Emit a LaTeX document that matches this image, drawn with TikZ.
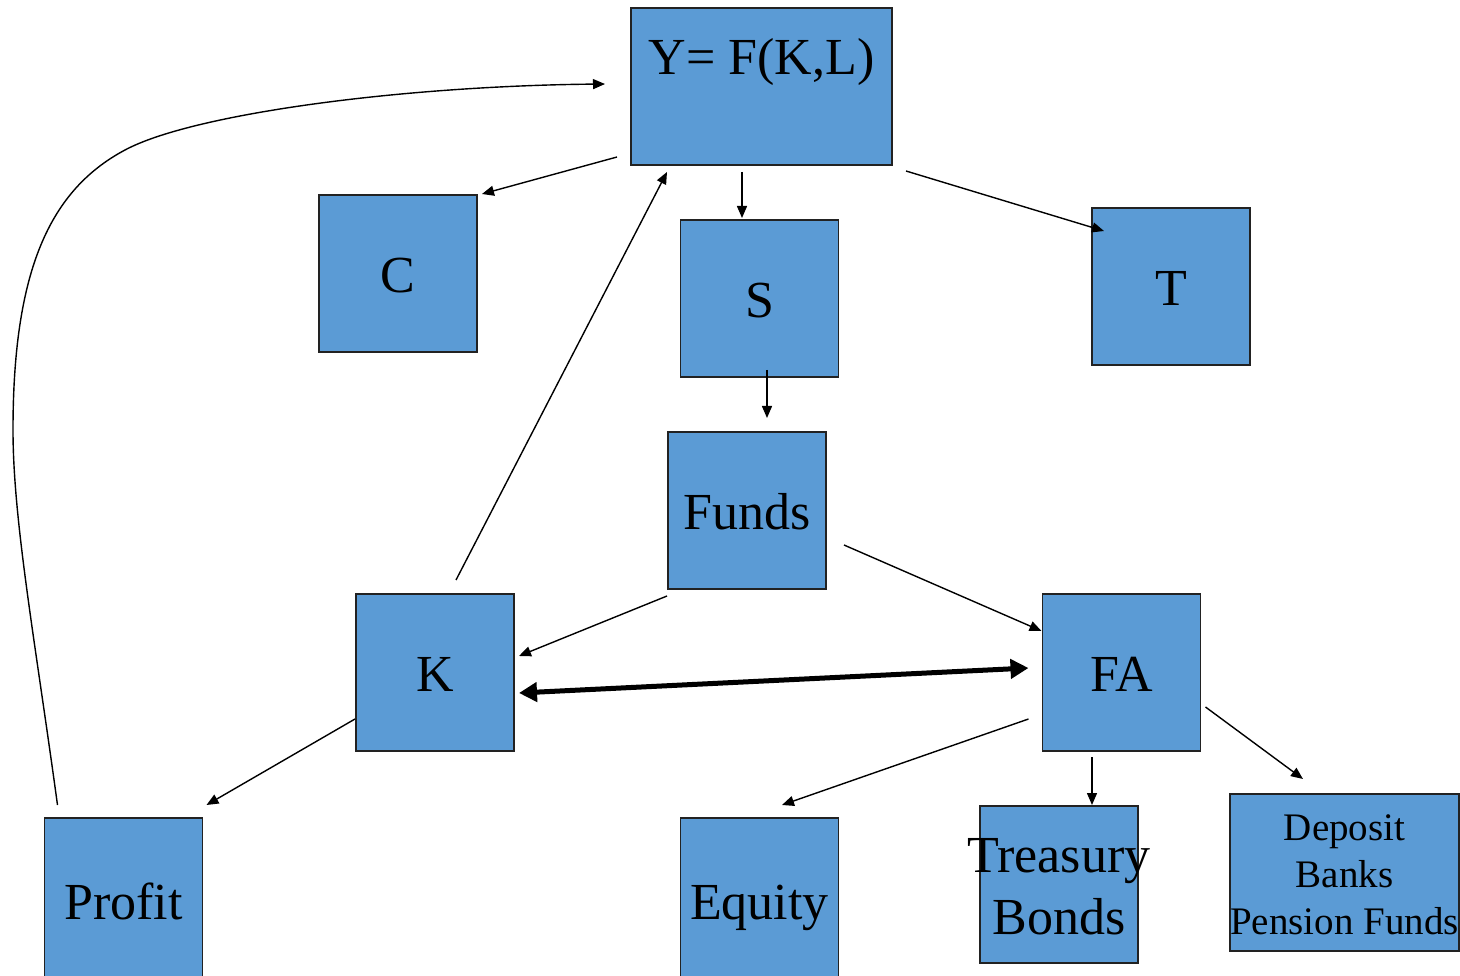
\documentclass[tikz,border=0pt]{standalone}
\usepackage{fontspec}
\setmainfont{Liberation Serif}
\usetikzlibrary{arrows.meta,calc}
\definecolor{boxblue}{HTML}{5B9BD5}
\definecolor{boxline}{HTML}{222222}
\begin{document}
\begin{tikzpicture}[x=1pt,y=-1pt,
  boxbase/.style={draw=boxline,line width=1.8pt,fill=boxblue,
    minimum width=158pt,minimum height=157pt,inner sep=0pt,outer sep=0pt},
  bigfont/.style={font=\fontsize{52}{62}\selectfont},
  box/.style={boxbase,bigfont,text height=38pt,text depth=0pt},
  lbl/.style={inner sep=0pt,bigfont,text height=34pt,text depth=0pt},
  mlbl/.style={inner sep=0pt,align=center,yshift=-2pt},
  arr/.style={-{Triangle[length=12pt,width=10pt]},line width=1.4pt},
  dbl/.style={{Triangle[length=18pt,width=19pt]}-{Triangle[length=18pt,width=19pt]},line width=5pt}]
\clip (0,0) rectangle (1460,976);
\fill[white] (0,0) rectangle (1460,976);

% boxes
\node[boxbase,minimum width=261pt] (Y) at (761.5,86.5) {};
\node[lbl] (Ytext) at ($(Y.north)+(0,50)$) {Y= F(K,L)};
\node[box] (C) at (398,273.5) {C};
\node[box] (S) at (759.5,298.5) {S};
\node[box] (T) at (1171,286.5) {T};
\node[box] (F) at (747,510.5) {Funds};
\node[box] (K) at (435,672.5) {K};
\node[box] (FA) at (1121.5,672.5) {FA};
\node[box,minimum height=164pt] (P) at (123.5,900) {Profit};
\node[box,minimum height=164pt] (E) at (759.5,900) {Equity};
\node[boxbase] (TB) at (1059,884.5) {};
\node[mlbl,bigfont] (TBtext) at (TB.center) {Treasury\\Bonds};
\node[boxbase,minimum width=229pt] (D) at (1344.5,872.5) {};
\node[mlbl,font=\fontsize{39}{47}\selectfont] (Dtext) at (D.center) {Deposit\\Banks\\Pension Funds};

% connectors
\draw[arr] ($(Y.south west)+(-14,-8)$) -- ($(C.north east)+(5,-1)$);
\draw[arr] ($(Y.south)+(-19.5,7)$) -- ($(S.north)+(-17.5,-2)$);
\draw[arr] ($(Y.south east)+(14,6)$) -- ($(T.north west)+(12,23)$);
\draw[arr] ($(S.south)+(7.5,-7)$) -- ($(F.north)+(20,-14)$);
\draw[arr] ($(K.north)+(21,-14)$) -- ($(Y.south west)+(36,7)$);
\draw[arr] ($(F.south west)+(-1,7)$) -- ($(K.east)+(5,-16.5)$);
\draw[arr] ($(F.east)+(18,34.5)$) -- ($(FA.west)+(-1,-41.5)$);
\draw[dbl] ($(K.east)+(5,20.5)$) -- ($(FA.west)+(-14,-4.5)$);
\draw[arr] ($(K.west)+(-1,46.5)$) -- ($(P.north east)+(4,-13)$);
\draw[arr] ($(FA.west)+(-14,46.5)$) -- ($(E.north)+(22.5,-13)$);
\draw[arr] ($(FA.south)+(-29.5,6)$) -- ($(TB.north)+(33,-1)$);
\draw[arr] ($(FA.east)+(5,34.5)$) -- ($(D.north)+(-41.5,-15)$);

% feedback from profit to output
\coordinate (bendlow) at (13,430);
\coordinate (bendhigh) at (125,150);
\draw[arr] ($(P.north west)+(13,-13)$) .. controls (35,640) and (13,520) .. (bendlow)
  .. controls (13,270) and (50,190) .. (bendhigh)
  .. controls (192,114) and (400,86) .. ($(Y.west)+(-26,-2.5)$);
\end{tikzpicture}
\end{document}
